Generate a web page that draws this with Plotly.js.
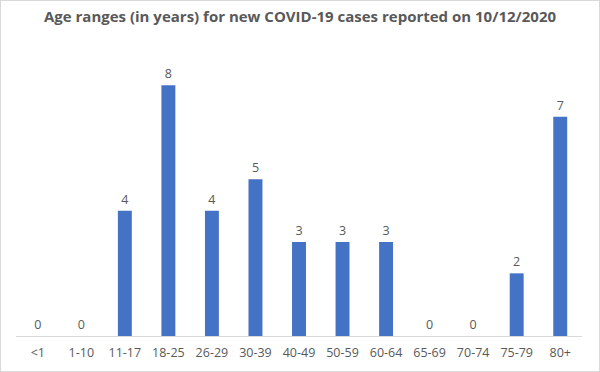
<!DOCTYPE html>
<html>
<head>
<meta charset="utf-8">
<script src="https://cdn.plot.ly/plotly-3.0.1.min.js"></script>
<style>
html,body{margin:0;padding:0;background:#fff;}
#wrap{position:relative;width:600px;height:372px;}
#chart{width:600px;height:372px;}
#frame{position:absolute;left:0;top:0;width:598px;height:370px;border:1px solid #d9d9d9;pointer-events:none;}
</style>
</head>
<body>
<div id="wrap"><div id="chart"></div><div id="frame"></div></div>
<script>
const categories = ["<1","1-10","11-17","18-25","26-29","30-39","40-49","50-59","60-64","65-69","70-74","75-79","80+"];
const cases = [0,0,4,8,4,5,3,3,3,0,0,2,7];
const titleText = "Age ranges (in years) for new COVID-19 cases reported on 10/12/2020";

const trace = {
  type: "bar",
  x: categories,
  y: cases,
  marker: {color: "#4472C4"},
  text: cases.map(String),
  textposition: "outside",
  textfont: {family: "Open Sans, Liberation Sans, sans-serif", size: 12.5, color: "#595959"},
  cliponaxis: false,
  hoverinfo: "none"
};

const layout = {
  width: 600, height: 372,
  margin: {l: 16, r: 18, t: 54, b: 36},
  paper_bgcolor: "#fff", plot_bgcolor: "#fff",
  bargap: 0.68,
  showlegend: false,
  title: {
    text: "<b>" + titleText + "</b>",
    x: 0.5, xanchor: "center", y: 0.955, yanchor: "middle",
    font: {family: "Open Sans, Liberation Sans, sans-serif", size: 15, color: "#595959"}
  },
  xaxis: {
    type: "category",
    showline: true, linecolor: "#d9d9d9", linewidth: 1,
    ticks: "", showgrid: false, zeroline: false,
    tickfont: {family: "Open Sans, Liberation Sans, sans-serif", size: 12.5, color: "#595959"},
    ticklabelstandoff: 5
  },
  yaxis: {
    range: [0, 9], visible: false, showgrid: false, zeroline: false
  }
};

Plotly.newPlot("chart", [trace], layout, {staticPlot: true, displayModeBar: false});
</script>
</body>
</html>
